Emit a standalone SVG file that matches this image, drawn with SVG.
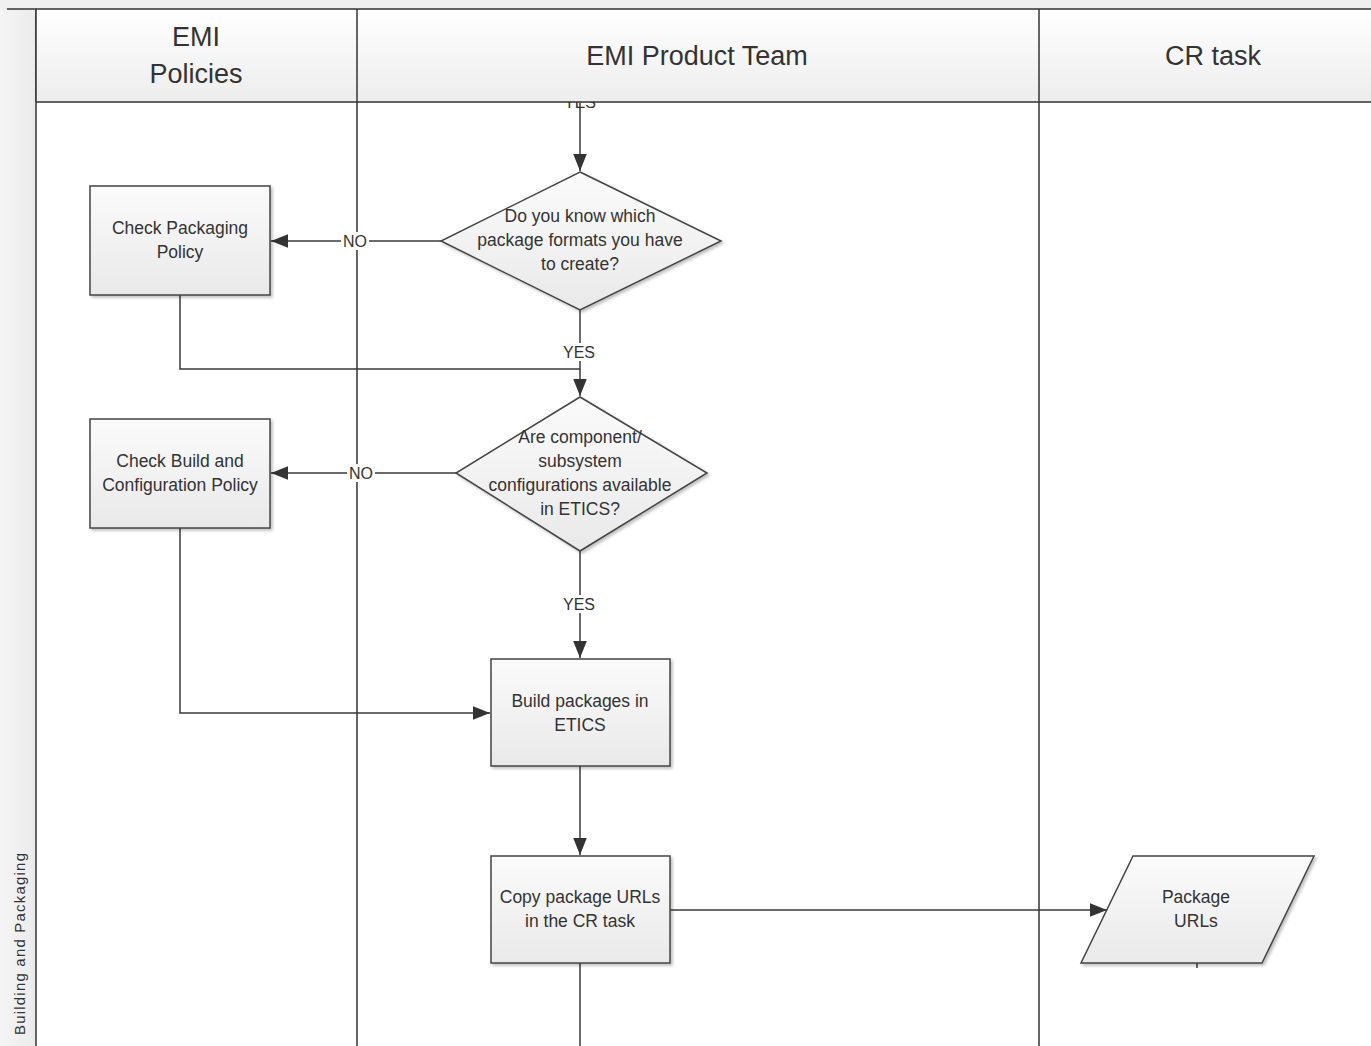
<svg xmlns="http://www.w3.org/2000/svg" width="1371" height="1046" viewBox="0 0 1371 1046">
<defs>
<linearGradient id="hdr" x1="0" y1="0" x2="0" y2="1">
<stop offset="0" stop-color="#ffffff"/>
<stop offset="1" stop-color="#ededed"/>
</linearGradient>
<linearGradient id="strip" x1="0" y1="0" x2="1" y2="0">
<stop offset="0" stop-color="#f5f5f5"/>
<stop offset="1" stop-color="#ebebeb"/>
</linearGradient>
<linearGradient id="shape" x1="0" y1="0" x2="0" y2="1">
<stop offset="0" stop-color="#fbfbfb"/>
<stop offset="1" stop-color="#e9e9e9"/>
</linearGradient>
<filter id="sh" x="-10%" y="-10%" width="125%" height="125%">
<feGaussianBlur in="SourceAlpha" stdDeviation="1.5"/>
<feOffset dx="1.5" dy="1.5" result="b"/>
<feComponentTransfer><feFuncA type="linear" slope="0.25"/></feComponentTransfer>
<feMerge><feMergeNode/><feMergeNode in="SourceGraphic"/></feMerge>
</filter>
<marker id="arr" viewBox="0 0 10 10" refX="10" refY="5" markerWidth="17" markerHeight="17" markerUnits="userSpaceOnUse" orient="auto">
<path d="M0,1 L10,5 L0,9 z" fill="#333"/>
</marker>
</defs>
<style>
.t{font-family:"Liberation Sans",Arial,sans-serif;fill:#333;text-anchor:middle}
.h{font-size:27px}
.n{font-size:17.5px}
.lb{font-size:16px}
.box{fill:url(#shape);stroke:#444;stroke-width:1.5;filter:url(#sh)}
.ln{fill:none;stroke:#3a3a3a;stroke-width:1.5}
.lane{fill:none;stroke:#333;stroke-width:1.5}
</style>
<rect x="0" y="0" width="1371" height="1046" fill="#ffffff"/>
<rect x="0" y="0" width="1371" height="9" fill="#f0f0f0"/>
<g id="pool">
<rect x="0" y="9" width="36" height="1037" fill="url(#strip)"/>
<text class="t" font-size="15" transform="translate(25,944) rotate(-90)" textLength="182" lengthAdjust="spacing">Building and Packaging</text>
</g>
<g id="connectors">
<text class="t lb" x="580" y="108">YES</text>
<line class="ln" x1="580" y1="103" x2="580" y2="171" marker-end="url(#arr)"/>
<line class="ln" x1="441" y1="241" x2="271" y2="241" marker-end="url(#arr)"/>
<line class="ln" x1="580" y1="310" x2="580" y2="396" marker-end="url(#arr)"/>
<polyline class="ln" points="180,295 180,369 580,369"/>
<line class="ln" x1="456" y1="473" x2="271" y2="473" marker-end="url(#arr)"/>
<line class="ln" x1="580" y1="551" x2="580" y2="658" marker-end="url(#arr)"/>
<polyline class="ln" points="180,528 180,713 490,713" marker-end="url(#arr)"/>
<line class="ln" x1="580" y1="766" x2="580" y2="855" marker-end="url(#arr)"/>
<line class="ln" x1="670" y1="910" x2="1107" y2="910" marker-end="url(#arr)"/>
<line class="ln" x1="580" y1="963" x2="580" y2="1046"/>
<line class="ln" x1="1197" y1="963" x2="1197" y2="968"/>
</g>
<g id="lanes">
<line class="lane" x1="36" y1="9" x2="36" y2="1046"/>
<line class="lane" x1="357" y1="102" x2="357" y2="1046"/>
<line class="lane" x1="1039" y1="102" x2="1039" y2="1046"/>
</g>
<g id="header">
<rect x="36" y="9" width="1335" height="93" fill="url(#hdr)"/>
<line class="lane" x1="7" y1="9" x2="1371" y2="9"/>
<line class="lane" x1="36" y1="102" x2="1371" y2="102"/>
<line class="lane" x1="36" y1="9" x2="36" y2="102"/>
<line class="lane" x1="357" y1="9" x2="357" y2="102"/>
<line class="lane" x1="1039" y1="9" x2="1039" y2="102"/>
</g>
<g id="lane-emi-policies"><text class="t h" x="196" y="46">EMI</text><text class="t h" x="196" y="83">Policies</text></g>
<g id="lane-emi-product-team"><text class="t h" x="697" y="65">EMI Product Team</text></g>
<g id="lane-cr-task"><text class="t h" x="1213" y="65">CR task</text></g>
<g id="labels">
<rect x="341" y="232" width="28" height="18" fill="#fff"/>
<text class="t lb" x="355" y="247">NO</text>
<rect x="347" y="464" width="28" height="18" fill="#fff"/>
<text class="t lb" x="361" y="479">NO</text>
<rect x="562" y="343" width="36" height="18" fill="#fff"/>
<text class="t lb" x="579" y="358">YES</text>
<rect x="562" y="595" width="36" height="18" fill="#fff"/>
<text class="t lb" x="579" y="610">YES</text>
</g>
<g id="node-check-packaging">
<rect class="box" x="90" y="186" width="180" height="109"/>
<text class="t n" x="180" y="234">Check Packaging</text>
<text class="t n" x="180" y="258">Policy</text>
</g>
<g id="node-decision-formats">
<polygon class="box" points="580,172 721,241 580,310 441,241"/>
<text class="t n" x="580" y="222">Do you know which</text>
<text class="t n" x="580" y="246">package formats you have</text>
<text class="t n" x="580" y="270">to create?</text>
</g>
<g id="node-check-build">
<rect class="box" x="90" y="419" width="180" height="109"/>
<text class="t n" x="180" y="467">Check Build and</text>
<text class="t n" x="180" y="491">Configuration Policy</text>
</g>
<g id="node-decision-configs">
<polygon class="box" points="580,397 707,473 580,551 456,473"/>
<text class="t n" x="580" y="443">Are component/</text>
<text class="t n" x="580" y="467">subsystem</text>
<text class="t n" x="580" y="491">configurations available</text>
<text class="t n" x="580" y="515">in ETICS?</text>
</g>
<g id="node-build-packages">
<rect class="box" x="491" y="659" width="179" height="107"/>
<text class="t n" x="580" y="707">Build packages in</text>
<text class="t n" x="580" y="731">ETICS</text>
</g>
<g id="node-copy-urls">
<rect class="box" x="491" y="856" width="179" height="107"/>
<text class="t n" x="580" y="903">Copy package URLs</text>
<text class="t n" x="580" y="927">in the CR task</text>
</g>
<g id="node-package-urls">
<polygon class="box" points="1133,856 1314,856 1262,963 1081,963"/>
<text class="t n" x="1196" y="903">Package</text>
<text class="t n" x="1196" y="927">URLs</text>
</g>
</svg>
